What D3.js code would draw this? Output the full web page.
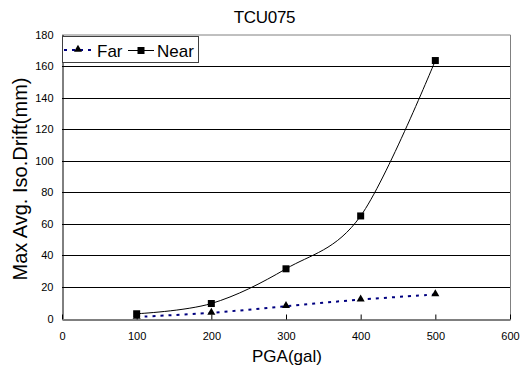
<!DOCTYPE html>
<html><head><meta charset="utf-8">
<script src="https://cdn.jsdelivr.net/npm/d3@7/dist/d3.min.js"></script>
<style>body{margin:0;background:#fff}svg{display:block}text{font-family:"Liberation Sans",Arial,sans-serif}</style>
</head><body><svg id="c" width="520" height="369"></svg>
<script>
const pga = [100, 200, 300, 400, 500];
const farVals = [1, 3.6, 7.8, 12, 15.2];
const nearVals = [3, 9.5, 31.5, 65, 163.5];
const xTicks = [0, 100, 200, 300, 400, 500, 600];
const yTicks = [0, 20, 40, 60, 80, 100, 120, 140, 160, 180];
const seriesNames = ["Far", "Near"];

const svg = d3.select("#c");
const L = 62, R = 510, T = 34.5, B = 318.5;
const x = d3.scaleLinear().domain([0, 600]).range([L, R]);
const y = d3.scaleLinear().domain([0, 180]).range([B, T]);

// gridlines
svg.append("g").selectAll("line").data(yTicks.filter(d => d > 0 && d < 180)).join("line")
  .attr("x1", L).attr("x2", R)
  .attr("y1", d => Math.round(y(d)) + 0.5).attr("y2", d => Math.round(y(d)) + 0.5)
  .attr("stroke", "#000").attr("stroke-width", 1);

// plot border top/right
svg.append("path").attr("d", `M${L},${T + 0.5}H${R + 0.5}V${B}`)
  .attr("fill", "none").attr("stroke", "#808080");

// x axis
const xa = svg.append("g").attr("transform", `translate(0,${Math.round(B) + 0.5})`)
  .call(d3.axisBottom(x).tickValues(xTicks).tickSize(-5).tickPadding(13).tickSizeOuter(0));
xa.select(".domain").attr("stroke", "#000");
xa.selectAll("text").attr("font-size", 11).attr("fill", "#000").attr("font-family", "Liberation Sans, Arial");

// y axis
const ya = svg.append("g").attr("transform", `translate(${L + 0.5},0)`)
  .call(d3.axisLeft(y).tickValues(yTicks).tickSize(0).tickPadding(9));
ya.select(".domain").attr("stroke", "#000");
ya.selectAll("text").attr("font-size", 11).attr("fill", "#000").attr("font-family", "Liberation Sans, Arial");

const curve = d3.curveCardinal.tension(0);
const line = d3.line().x(d => x(d[0])).y(d => y(d[1])).curve(curve);
const farData = pga.map((p, i) => [p, farVals[i]]);
const nearData = pga.map((p, i) => [p, nearVals[i]]);

svg.append("path").attr("d", line(nearData)).attr("fill", "none").attr("stroke", "#000").attr("stroke-width", 1);
svg.append("path").attr("d", line(farData)).attr("fill", "none").attr("stroke", "#000080")
  .attr("stroke-width", 2).attr("stroke-dasharray", "3,5");

const tri = d3.symbol().type(d3.symbolTriangle).size(28);
svg.append("g").selectAll("rect").data(nearData).join("rect")
  .attr("x", d => x(d[0]) - 3.5).attr("y", d => y(d[1]) - 3.5).attr("width", 7).attr("height", 7).attr("fill", "#000");
svg.append("g").selectAll("path").data(farData).join("path")
  .attr("d", tri).attr("transform", d => `translate(${x(d[0])},${y(d[1]) - 0.5})`).attr("fill", "#000");

// legend
const lg = svg.append("g");
lg.append("rect").attr("x", 62.5).attr("y", 36.5).attr("width", 136).attr("height", 26)
  .attr("fill", "#fff").attr("stroke", "#404040");
lg.append("line").attr("x1", 64).attr("x2", 92).attr("y1", 50).attr("y2", 50)
  .attr("stroke", "#000080").attr("stroke-width", 2).attr("stroke-dasharray", "3,5");
lg.append("path").attr("d", tri).attr("transform", "translate(78,49.5)").attr("fill", "#000");
lg.append("line").attr("x1", 128).attr("x2", 154).attr("y1", 50.5).attr("y2", 50.5).attr("stroke", "#000");
lg.append("rect").attr("x", 137.5).attr("y", 47).attr("width", 7).attr("height", 7).attr("fill", "#000");
lg.append("text").attr("x", 97).attr("y", 57).attr("font-size", 17).text(seriesNames[0]);
lg.append("text").attr("x", 157).attr("y", 57).attr("font-size", 17).text(seriesNames[1]);

// titles
svg.append("text").attr("x", 264.5).attr("y", 23).attr("text-anchor", "middle").attr("font-size", 17)
  .attr("letter-spacing", -0.3).text("TCU075");
svg.append("text").attr("x", 287).attr("y", 362).attr("text-anchor", "middle").attr("font-size", 17).text("PGA(gal)");
svg.append("text").attr("transform", "translate(27,179) rotate(-90)").attr("text-anchor", "middle")
  .attr("font-size", 20).text("Max Avg. Iso.Drift(mm)");
</script></body></html>
